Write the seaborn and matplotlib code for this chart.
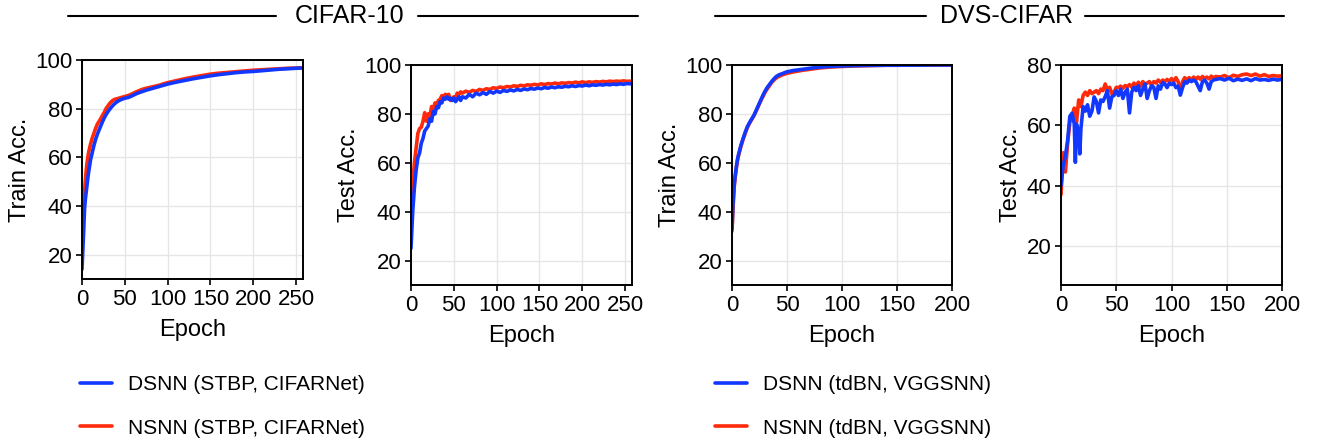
import numpy as np
import pandas as pd
import matplotlib
matplotlib.use("Agg")
import matplotlib.pyplot as plt
from matplotlib.lines import Line2D
import seaborn as sns

# ---------------- data ----------------
# CIFAR-10 train accuracy
cifar_train_epochs = [0, 1, 2, 3, 4, 5, 6, 7, 8, 10, 12, 14, 16, 18, 20, 22, 24, 26, 28, 30,
                      32, 34, 36, 38, 40, 43, 46, 50, 54, 58, 62, 66, 70, 75, 80, 85, 90, 95,
                      100, 110, 120, 130, 140, 150, 160, 170, 180, 190, 200, 210, 220, 230,
                      240, 250, 256]
cifar_train_dsnn = [14, 22, 30, 39, 43, 46, 49, 52, 54.5, 59, 62, 65, 67.5, 69.5, 71.3, 73,
                    74.7, 76.2, 77.5, 78.6, 79.6, 80.5, 81.3, 82, 82.6, 83.3, 83.8, 84.3,
                    84.6, 85.2, 85.9, 86.5, 87, 87.6, 88.1, 88.6, 89.1, 89.6, 90.1, 90.9,
                    91.6, 92.3, 92.9, 93.5, 94, 94.4, 94.8, 95.1, 95.3, 95.6, 95.9, 96.2,
                    96.4, 96.6, 96.7]
cifar_train_nsnn = [24, 33, 40, 46, 51, 55, 58, 60.5, 62.5, 65.5, 68, 70, 72, 73.7, 74.8, 76,
                    77.3, 78.5, 80, 81, 82, 82.8, 83.4, 83.8, 84, 84.3, 84.6, 85, 85.4, 86,
                    86.7, 87.3, 87.9, 88.4, 88.8, 89.2, 89.6, 90.2, 90.7, 91.5, 92.3, 93,
                    93.6, 94.2, 94.6, 94.9, 95.2, 95.5, 95.8, 96, 96.2, 96.4, 96.6, 96.7, 96.8]

# CIFAR-10 test accuracy
cifar_test_epochs = [0, 2, 4, 6, 8, 10, 12, 14, 16, 18, 20, 22, 24, 26, 28, 30, 32, 34, 36,
                     38, 40, 42, 44, 46, 48, 50, 52, 54, 56, 58, 60, 64, 68, 72, 76, 80, 84,
                     88, 92, 96, 100, 104, 108, 112, 116, 120, 124, 128, 132, 136, 140, 144,
                     148, 152, 156, 160, 164, 168, 172, 176, 180, 184, 188, 192, 196, 200,
                     204, 208, 212, 216, 220, 224, 228, 232, 236, 240, 244, 248, 252, 256]
cifar_test_dsnn = [25, 40, 50, 57, 62, 64, 68, 70, 73, 74, 75, 78, 77, 81, 80, 83, 82.5, 85,
                   84.5, 86.5, 86, 87, 86, 86.5, 85.5, 86.5, 85, 86, 87, 85.5, 87, 86.5, 88,
                   87, 88.5, 87.8, 88.7, 88, 89.2, 88.5, 89.3, 88.8, 89.6, 89.2, 89.8, 89.4,
                   90, 89.6, 90.2, 89.9, 90.4, 90.1, 90.6, 90.3, 90.8, 90.5, 91, 90.7, 91.1,
                   90.9, 91.3, 91.1, 91.5, 91.2, 91.6, 91.4, 91.8, 91.5, 91.9, 91.7, 92,
                   91.8, 92.1, 91.9, 92.2, 92, 92.3, 92.1, 92.4, 92.3]
cifar_test_nsnn = [38, 52, 60, 66, 72, 74, 74.5, 77, 80.5, 77, 80, 79, 83, 82, 84.5, 84, 85.5,
                   86, 87.5, 86.5, 88, 87.5, 88, 85.5, 86, 87, 86.5, 88.5, 88, 89, 88.5, 89.3,
                   88.8, 89.6, 89.2, 90, 89.6, 90.3, 90, 90.7, 90.4, 91, 90.7, 91.2, 91,
                   91.5, 91.2, 91.7, 91.4, 91.9, 91.7, 92.1, 91.8, 92.3, 92, 92.4, 92.2,
                   92.6, 92.3, 92.7, 92.5, 92.8, 92.6, 93, 92.7, 93.1, 92.8, 93.1, 92.9,
                   93.2, 93, 93.3, 93.1, 93.4, 93.2, 93.4, 93.3, 93.5, 93.3, 93.4]

# DVS-CIFAR train accuracy
dvs_train_epochs = [0, 1, 2, 3, 4, 5, 6, 8, 10, 12, 14, 16, 18, 20, 22, 24, 26, 28, 30, 32,
                    34, 36, 38, 40, 42, 44, 46, 48, 50, 55, 60, 65, 70, 75, 80, 85, 90, 95,
                    100, 110, 120, 130, 140, 150, 160, 170, 180, 190, 200]
dvs_train_dsnn = [33, 44, 51, 55, 58.5, 61.5, 63.5, 67, 69.8, 72.5, 74.8, 76.5, 78, 79.5,
                  81.5, 83.5, 85.5, 87.5, 89.3, 90.8, 92, 93.2, 94.3, 95.2, 95.8, 96.2, 96.5,
                  96.9, 97.2, 97.7, 98, 98.3, 98.6, 98.9, 99.1, 99.3, 99.4, 99.5, 99.6, 99.7,
                  99.8, 99.85, 99.9, 99.9, 99.95, 99.95, 100, 100, 100]
dvs_train_nsnn = [32, 42, 50, 54.5, 58, 61, 63, 66.5, 69.5, 72, 74.5, 76.2, 77.8, 79.3, 81.2,
                  83.2, 85.2, 87, 88.8, 90.2, 91.5, 92.8, 93.8, 94.6, 95.2, 95.6, 96, 96.3,
                  96.6, 97.1, 97.5, 97.9, 98.2, 98.5, 98.8, 99, 99.2, 99.3, 99.4, 99.6, 99.7,
                  99.8, 99.9, 99.9, 99.95, 99.95, 100, 100, 100]

# DVS-CIFAR test accuracy
dvs_test_epochs = [0, 2, 4, 6, 8, 10, 12, 13, 14, 16, 17, 18, 20, 22, 24, 26, 28, 30, 32, 34,
                   36, 38, 40, 42, 44, 46, 48, 50, 52, 54, 56, 58, 60, 62, 64, 66, 68, 70,
                   72, 74, 76, 78, 80, 82, 84, 86, 88, 90, 92, 94, 96, 98, 100, 102, 104,
                   106, 108, 110, 112, 114, 116, 118, 120, 122, 124, 126, 128, 130, 132,
                   134, 136, 138, 140, 144, 148, 152, 156, 160, 164, 168, 172, 176, 180,
                   184, 188, 192, 196, 200]
dvs_test_dsnn = [40, 46.7, 49.8, 55, 63, 64, 60.4, 47.7, 60.4, 57.8, 50.5, 58.8, 66.2, 64.7,
                 66.8, 63, 64.7, 69.4, 67.9, 64.1, 68.4, 67.9, 69.5, 71.5, 65.7, 69.5, 69.9,
                 71.5, 69.9, 72, 68.9, 71, 72, 64.1, 71, 72.6, 71.5, 73.1, 69.9, 72, 73.7,
                 68.9, 71.5, 73.1, 72.6, 68.9, 73.1, 72, 74.2, 73.7, 72.5, 74, 73.5, 74,
                 72.5, 73, 70, 72.5, 74.5, 74, 75, 74.5, 75, 74.5, 73, 71.5, 74.5, 75, 74,
                 72, 74.5, 75, 75.2, 75.5, 75, 75.6, 74.8, 75.3, 74.9, 75.4, 74.8, 75.5, 75,
                 75.2, 74.9, 75.3, 75, 75.3]
dvs_test_nsnn = [37, 50.9, 44.5, 54, 61, 63, 65.7, 64, 61, 68.4, 67, 66.2, 69.9, 71, 69.9,
                 71.5, 70.5, 71, 71.5, 70.5, 72, 71.5, 73.7, 71.5, 72.6, 70.5, 71, 72.6,
                 72.5, 73, 72.2, 73.2, 72.8, 73.5, 72.6, 74, 73, 74.3, 73, 74.5, 73.5, 74,
                 74.5, 73.2, 74.5, 74, 75, 74.2, 75, 74.5, 75.2, 74.6, 75.5, 74.5, 75.8,
                 74.5, 71, 74.5, 75.8, 75, 75.8, 75, 76, 75.2, 76, 75.3, 76.2, 75.5, 76,
                 75.4, 76.3, 75.6, 76.2, 76, 76.5, 75.8, 76.6, 76.2, 76.8, 77, 76.5, 77,
                 76.3, 76.8, 76.2, 76.5, 76.3, 76.4]

cifar_labels = ["DSNN (STBP, CIFARNet)", "NSNN (STBP, CIFARNet)"]
dvs_labels = ["DSNN (tdBN, VGGSNN)", "NSNN (tdBN, VGGSNN)"]
group_titles = ["CIFAR-10", "DVS-CIFAR"]

BLUE = "#1238ff"
RED = "#ff2a0a"

# ---------------- style ----------------
sns.set_theme(style="whitegrid")
plt.rcParams["font.family"] = ["Liberation Sans", "DejaVu Sans"]
plt.rcParams["text.color"] = "black"
plt.rcParams["axes.labelcolor"] = "black"
plt.rcParams["xtick.color"] = "black"
plt.rcParams["ytick.color"] = "black"

W, H = 1321, 443
fig = plt.figure(figsize=(W / 100, H / 100), dpi=100)


def frac_box(left, top, right, bottom):
    return [left / W, 1 - bottom / H, (right - left) / W, (bottom - top) / H]


panels = [
    dict(box=frac_box(82, 60, 303, 279), ep=(cifar_train_epochs, cifar_train_epochs),
         vals=(cifar_train_dsnn, cifar_train_nsnn), labels=cifar_labels, ylabel="Train Acc.",
         xlim=(0, 258), ylim=(10, 100), yticks=[20, 40, 60, 80, 100], xticks=[0, 50, 100, 150, 200, 250]),
    dict(box=frac_box(411, 65, 632, 285), ep=(cifar_test_epochs, cifar_test_epochs),
         vals=(cifar_test_dsnn, cifar_test_nsnn), labels=cifar_labels, ylabel="Test Acc.",
         xlim=(0, 258), ylim=(10, 100), yticks=[20, 40, 60, 80, 100], xticks=[0, 50, 100, 150, 200, 250]),
    dict(box=frac_box(732, 65, 952, 285), ep=(dvs_train_epochs, dvs_train_epochs),
         vals=(dvs_train_dsnn, dvs_train_nsnn), labels=dvs_labels, ylabel="Train Acc.",
         xlim=(0, 200), ylim=(10, 100), yticks=[20, 40, 60, 80, 100], xticks=[0, 50, 100, 150, 200]),
    dict(box=frac_box(1061, 65, 1282, 285), ep=(dvs_test_epochs, dvs_test_epochs),
         vals=(dvs_test_dsnn, dvs_test_nsnn), labels=dvs_labels, ylabel="Test Acc.",
         xlim=(0, 200), ylim=(7, 80), yticks=[20, 40, 60, 80], xticks=[0, 50, 100, 150, 200]),
]

for p in panels:
    ax = fig.add_axes(p["box"])
    frames = []
    for ep, v, lab in zip(p["ep"], p["vals"], p["labels"]):
        frames.append(pd.DataFrame({"epoch": ep, "acc": v, "model": lab}))
    df = pd.concat(frames, ignore_index=True)
    # NSNN (red) drawn first, DSNN (blue) on top
    sns.lineplot(data=df, x="epoch", y="acc", hue="model",
                 hue_order=[p["labels"][1], p["labels"][0]],
                 palette={p["labels"][0]: BLUE, p["labels"][1]: RED},
                 linewidth=2.6, ax=ax, legend=False, estimator=None)
    ax.set_xlim(*p["xlim"])
    ax.set_ylim(*p["ylim"])
    ax.set_xticks(p["xticks"])
    ax.set_yticks(p["yticks"])
    ax.set_xlabel("Epoch", fontsize=17, labelpad=7)
    ax.set_ylabel(p["ylabel"], fontsize=17, labelpad=3)
    ax.tick_params(axis="both", labelsize=16, length=4, width=1.2, color="black",
                   direction="out", bottom=True, left=True, pad=3, labelcolor="black")
    ax.grid(True, color="#e6e6e6", linewidth=1.0)
    for s in ax.spines.values():
        s.set_visible(True)
        s.set_color("black")
        s.set_linewidth(1.4)
    ax.set_facecolor("white")

# group headers with rules
header_y = 1 - 16 / H
for title, (l1, l2, cx, r1, r2) in zip(group_titles,
                                       [(68, 276, 350, 418, 638), (715, 926, 1007, 1085, 1284)]):
    fig.add_artist(Line2D([l1 / W, l2 / W], [header_y, header_y], color="black", lw=1.5))
    fig.add_artist(Line2D([r1 / W, r2 / W], [header_y, header_y], color="black", lw=1.5))
    fig.text(cx / W, header_y, title, ha="center", va="center", fontsize=18, color="black")

# legends
for labels, x0 in [(cifar_labels, 80), (dvs_labels, 715)]:
    handles = [Line2D([], [], color=BLUE, lw=2.6), Line2D([], [], color=RED, lw=2.6)]
    leg = fig.legend(handles, labels, loc="upper left", bbox_to_anchor=(x0 / W, 1 - 375 / H),
                     frameon=False, fontsize=15, handlelength=1.55, handletextpad=0.75,
                     labelspacing=1.18, borderpad=0, borderaxespad=0)
    for t in leg.get_texts():
        t.set_color("black")

fig.savefig("out.png", dpi=100, facecolor="white")
